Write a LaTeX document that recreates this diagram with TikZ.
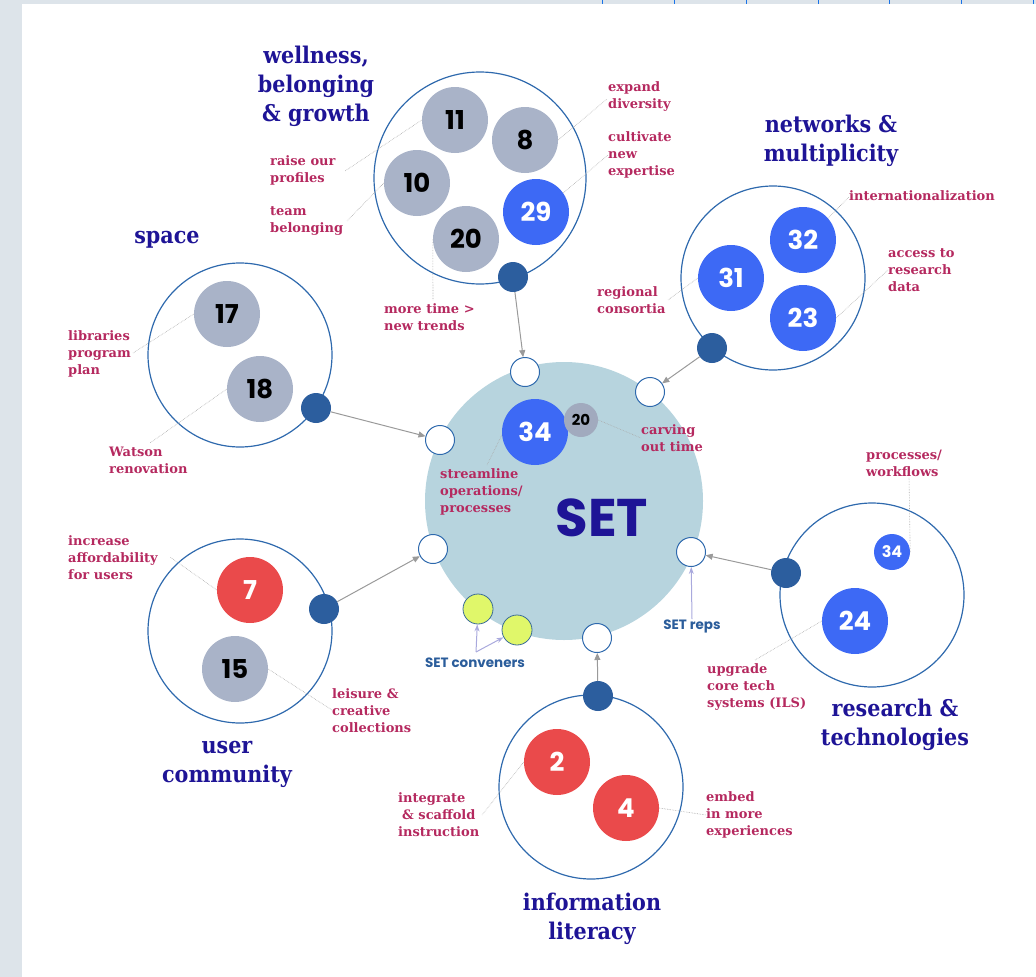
\documentclass[tikz,border=0pt]{standalone}
\usepackage{fontspec}
\setmainfont{DejaVu Serif}
\newfontfamily\slab[FakeStretch=0.9]{DejaVu Serif}
\newfontfamily\slabl{DejaVu Serif}
\newfontfamily\gsans{Poppins}
\usetikzlibrary{arrows.meta}
\definecolor{bgstrip}{HTML}{DDE4EA}
\definecolor{tick}{HTML}{1A73E8}
\definecolor{navy}{HTML}{1E1496}
\definecolor{labelred}{HTML}{B5295F}
\definecolor{numgray}{HTML}{A9B3C8}
\definecolor{numblue}{HTML}{3D69F5}
\definecolor{numred}{HTML}{EA4A4B}
\definecolor{dotblue}{HTML}{2C5E9E}
\definecolor{ringblue}{HTML}{2E69AD}
\definecolor{setfill}{HTML}{B7D4DE}
\definecolor{convyellow}{HTML}{E0F76A}
\definecolor{convedge}{HTML}{3A6B98}
\definecolor{conngray}{HTML}{9A9A9A}
\definecolor{leadgray}{HTML}{AAAAAA}
\definecolor{lav}{HTML}{A9A9DD}
\definecolor{setblue}{HTML}{2B5D9B}
\begin{document}
\begin{tikzpicture}[x=1pt,y=-1pt,
  grp/.style={circle, draw=ringblue, line width=1.2pt, minimum size=184pt, inner sep=0pt},
  numg/.style={circle, fill=numgray, minimum size=66pt, inner sep=0pt, text=black, font=\gsans\bfseries\fontsize{26}{26}\selectfont},
  numb/.style={numg, fill=numblue, text=white},
  numr/.style={numg, fill=numred, text=white},
  bdot/.style={circle, fill=dotblue, minimum size=30pt, inner sep=0pt},
  port/.style={circle, draw=ringblue, fill=white, line width=1pt, minimum size=29pt, inner sep=0pt},
  conv/.style={circle, draw=convedge, fill=convyellow, line width=0.8pt, minimum size=30pt, inner sep=0pt},
  conn/.style={draw=conngray, line width=1pt, -{Triangle[length=7pt,width=6pt]}},
  lavarrow/.style={draw=lav, line width=1pt, -{Stealth[length=7pt,width=5pt]}},
  lead/.style={draw=leadgray, line width=0.6pt, densely dotted},
  lbl/.style={font=\slabl\bfseries\fontsize{13}{17}\selectfont, text=labelred, align=left, anchor=west, inner sep=0pt},
  ttl/.style={font=\slab\bfseries\fontsize{23}{29}\selectfont, text=navy, align=center, inner sep=0pt},
  setlbl/.style={font=\gsans\bfseries\fontsize{13.5}{15}\selectfont, text=setblue, inner sep=0pt}
]
\useasboundingbox (0,0) rectangle (1036,977);
% frame
\fill[bgstrip] (0,0) rectangle (22,977);
\fill[bgstrip] (0,0) rectangle (1036,4);
\foreach \tx in {602,674,746,818,889,961,1033} \draw[tick, line width=1pt] (\tx,0) -- (\tx,4);

% central SET circle
\node[circle, fill=setfill, minimum size=278pt, inner sep=0pt] (set) at (564,501) {};
\node[font=\gsans\bfseries\fontsize{53}{53}\selectfont, text=navy, inner sep=0pt] (settxt) at (602,518) {SET};

% group circles
\node[grp, minimum size=212pt] (gW) at (480,178) {};
\node[grp] (gN) at (773,278) {};
\node[grp] (gS) at (240,355) {};
\node[grp] (gU) at (240,631) {};
\node[grp] (gR) at (872,595) {};
\node[grp] (gI) at (591,787) {};

% leader end coordinates
\coordinate (l11) at (345,171);
\coordinate (l10) at (347,221);
\coordinate (l8) at (607,99);
\coordinate (l29) at (608,155);
\coordinate (l20) at (433,300);
\coordinate (l32) at (849,197);
\coordinate (l23) at (888,270);
\coordinate (l31) at (668,300);
\coordinate (l17) at (133,353);
\coordinate (l18) at (150,443);
\coordinate (l7) at (170,557);
\coordinate (l15) at (332,710);
\coordinate (l34b) at (909,477);
\coordinate (l24) at (755,660);
\coordinate (l2) at (482,815);
\coordinate (l4) at (706,815);
\coordinate (lS34) at (487,465);
\coordinate (lS20) at (641,438);

% inner circles
\node[numg] (c11) at (455,120) {11};
\node[numg] (c8) at (525,140) {8};
\node[numg] (c10) at (417,183) {10};
\node[numb] (c29) at (536,212) {29};
\node[numg] (c20) at (466,239) {20};
\node[numb] (c32) at (803,240) {32};
\node[numb] (c31) at (731,278) {31};
\node[numb] (c23) at (803,318) {23};
\node[numg] (c17) at (227,314) {17};
\node[numg] (c18) at (260,389) {18};
\node[numr] (c7) at (250,590) {7};
\node[numg] (c15) at (235,669) {15};
\node[numb, minimum size=36pt, font=\gsans\bfseries\fontsize{16}{16}\selectfont] (c34b) at (892,552) {34};
\node[numb] (c24) at (855,621) {24};
\node[numr] (c2) at (557,762) {2};
\node[numr] (c4) at (626,808) {4};
\node[numb] (s34) at (535,432) {34};
\node[numg, minimum size=34pt, fill=numgray!95!black, font=\gsans\bfseries\fontsize{15}{15}\selectfont] (s20) at (581,420) {20};

% leaders
\draw[lead] (c11.180) -- (l11);
\draw[lead] (c10.180) -- (l10);
\draw[lead] (c8.0) -- (l8);
\draw[lead] (c29.35) -- (l29);
\draw[lead] (c20.180) -- (l20);
\draw[lead] (c32.41) -- (l32);
\draw[lead] (c23.0) -- (l23);
\draw[lead] (c31.180) -- (l31);
\draw[lead] (c17.180) -- (l17);
\draw[lead] (c18.180) -- (l18);
\draw[lead] (c7.180) -- (l7);
\draw[lead] (c15.0) -- (l15);
\draw[lead] (c34b.0) -- (l34b);
\draw[lead] (c24.180) -- (l24);
\draw[lead] (c2.180) -- (l2);
\draw[lead] (c4.0) -- (l4);
\draw[lead] (s34.185) -- (lS34);
\draw[lead] (s20.0) -- (lS20);

% ports on SET circle
\node[port] (pT) at (525,372) {};
\node[port] (pTR) at (650,392) {};
\node[port] (pL) at (440,440) {};
\node[port] (pLL) at (433,549) {};
\node[port] (pR) at (691,552) {};
\node[port] (pB) at (597,638) {};
\node[conv] (cv1) at (478,609) {};
\node[conv] (cv2) at (517,630) {};

% dark dots on group rings
\node[bdot] (dW) at (513,277) {};
\node[bdot] (dN) at (712,348) {};
\node[bdot] (dS) at (316,408) {};
\node[bdot] (dU) at (324,609) {};
\node[bdot] (dR) at (786,573) {};
\node[bdot] (dI) at (598,696) {};

% connectors
\draw[conn] (dW) -- (pT);
\draw[conn] (dN) -- (pTR);
\draw[conn] (dS) -- (pL);
\draw[conn] (dU) -- (pLL);
\draw[conn] (dR) -- (pR);
\draw[conn] (dI) -- (pB);

% SET conveners / reps
\node[setlbl] (convtxt) at (475,663) {SET conveners};
\coordinate (cvs) at (476,652);
\draw[lavarrow] (cvs) -- (cv1);
\draw[lavarrow] (cvs) -- (cv2);
\node[setlbl] (repstxt) at (692,626) {SET reps};
\draw[lavarrow] (repstxt.north) -- (pR);

% titles
\node[ttl] (tW) at (316,86) {wellness,\\belonging\\\& growth};
\node[ttl] (tN) at (831,141) {networks \&\\multiplicity};
\node[ttl] (tS) at (167,240) {space};
\node[ttl] (tU) at (227,764) {user\\community};
\node[ttl] (tR) at (895,725) {research \&\\technologies};
\node[ttl] (tI) at (592,919) {information\\literacy};

% labels
\node[lbl] (a11) at (270,170.5) {raise our\\profiles};
\node[lbl] (a10) at (270,221.5) {team\\belonging};
\node[lbl] (a8) at (608,97) {expand\\diversity};
\node[lbl] (a29) at (608,155) {cultivate\\new\\expertise};
\node[lbl] (a20) at (384,317.5) {more time >\\new trends};
\node[lbl] (a32) at (849,196) {internationalization};
\node[lbl] (a23) at (888,270) {access to\\research\\data};
\node[lbl] (a31) at (597,300.5) {regional\\consortia};
\node[lbl] (a17) at (68,354) {libraries\\program\\plan};
\node[lbl] (a18) at (109,460.5) {Watson\\renovation};
\node[lbl] (a7) at (68,558) {increase\\affordability\\for users};
\node[lbl] (a15) at (332,711) {leisure \&\\creative\\collections};
\node[lbl] (a34b) at (866,463.5) {processes/\\workflows};
\node[lbl] (a24) at (707,687) {upgrade\\core tech\\systems (ILS)};
\node[lbl] (a2) at (398,815) {integrate\\\hspace*{4pt}\& scaffold\\instruction};
\node[lbl] (a4) at (706,815) {embed\\in more\\experiences};
\node[lbl] (aS20) at (641,438.5) {carving\\out time};
\node[lbl] (aS34) at (440,492) {streamline\\operations/\\processes};
\end{tikzpicture}
\end{document}
